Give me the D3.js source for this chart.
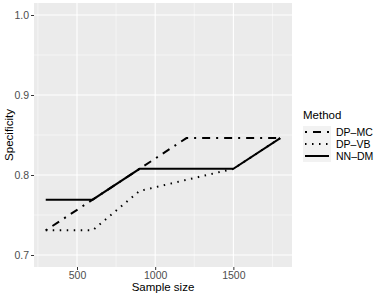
<!DOCTYPE html>
<html>
<head>
<meta charset="utf-8">
<script src="https://cdn.jsdelivr.net/npm/d3@7"></script>
<style>
  body { margin: 0; background: #fff; }
  text { font-family: "Liberation Sans", Arial, sans-serif; }
</style>
</head>
<body>
<svg id="chart" width="382" height="300"></svg>
<script>
// sample sizes on the x axis
const sampleSizes = [300, 600, 900, 1200, 1500, 1800];

// specificity per method
const dpMC = [0.7308, 0.7692, 0.8077, 0.8462, 0.8462, 0.8462];
const dpVB = [0.7308, 0.7308, 0.7800, 0.7940, 0.8077, 0.8462];
const nnDM = [0.7692, 0.7692, 0.8077, 0.8077, 0.8077, 0.8462];

const methods = ['DP\u2013MC', 'DP\u2013VB', 'NN\u2013DM'];
const xTicks = [500, 1000, 1500];
const xMinor = [250, 750, 1250, 1750];
const yTicks = [0.7, 0.8, 0.9, 1.0];
const yMinor = [0.75, 0.85, 0.95];

const series = [
  { name: methods[0], values: dpMC, dash: '2,6,8,6' },
  { name: methods[1], values: dpVB, dash: '1.5,5.5' },
  { name: methods[2], values: nnDM, dash: null }
];

const svg = d3.select('#chart');
const panel = { left: 34, right: 292, top: 3, bottom: 267 };

const x = d3.scaleLinear().domain([225, 1875]).range([panel.left, panel.right]);
const y = d3.scaleLinear().domain([0.685, 1.015]).range([panel.bottom, panel.top]);

svg.append('rect')
  .attr('x', panel.left).attr('y', panel.top)
  .attr('width', panel.right - panel.left)
  .attr('height', panel.bottom - panel.top)
  .attr('fill', '#ebebeb');

const grid = svg.append('g');
grid.selectAll('.xminor').data(xMinor).enter().append('line')
  .attr('x1', d => x(d)).attr('x2', d => x(d))
  .attr('y1', panel.top).attr('y2', panel.bottom)
  .attr('stroke', '#fff').attr('stroke-width', 0.5);
grid.selectAll('.yminor').data(yMinor).enter().append('line')
  .attr('y1', d => y(d)).attr('y2', d => y(d))
  .attr('x1', panel.left).attr('x2', panel.right)
  .attr('stroke', '#fff').attr('stroke-width', 0.5);
grid.selectAll('.xmajor').data(xTicks).enter().append('line')
  .attr('x1', d => x(d)).attr('x2', d => x(d))
  .attr('y1', panel.top).attr('y2', panel.bottom)
  .attr('stroke', '#fff').attr('stroke-width', 1.1);
grid.selectAll('.ymajor').data(yTicks).enter().append('line')
  .attr('y1', d => y(d)).attr('y2', d => y(d))
  .attr('x1', panel.left).attr('x2', panel.right)
  .attr('stroke', '#fff').attr('stroke-width', 1.1);

const line = d3.line()
  .x((d, i) => x(sampleSizes[i]))
  .y(d => y(d));

series.forEach(s => {
  svg.append('path')
    .datum(s.values)
    .attr('d', line)
    .attr('fill', 'none')
    .attr('stroke', '#000')
    .attr('stroke-width', 2)
    .attr('stroke-dasharray', s.dash);
});

// axes
const xAxis = svg.append('g')
  .attr('transform', `translate(0,${panel.bottom})`)
  .call(d3.axisBottom(x).tickValues(xTicks).tickSize(3).tickPadding(2).tickFormat(d3.format('d')));
const yAxis = svg.append('g')
  .attr('transform', `translate(${panel.left},0)`)
  .call(d3.axisLeft(y).tickValues(yTicks).tickSize(3).tickPadding(2).tickFormat(d3.format('.1f')));
[xAxis, yAxis].forEach(a => {
  a.select('.domain').remove();
  a.selectAll('.tick line').attr('stroke', '#333');
  a.selectAll('.tick text').attr('fill', '#4d4d4d').style('font-size', '10.5px');
});

svg.append('text')
  .attr('x', (panel.left + panel.right) / 2).attr('y', 291)
  .attr('text-anchor', 'middle')
  .style('font-size', '11.5px')
  .text('Sample size');

svg.append('text')
  .attr('transform', `translate(13,${(panel.top + panel.bottom) / 2}) rotate(-90)`)
  .attr('text-anchor', 'middle')
  .style('font-size', '11.5px')
  .text('Specificity');

// legend
const legend = svg.append('g').attr('transform', 'translate(303,0)');
legend.append('text')
  .attr('x', 0).attr('y', 119)
  .style('font-size', '11.5px')
  .text('Method');

series.forEach((s, i) => {
  const cy = 132 + i * 12;
  legend.append('rect')
    .attr('x', 0).attr('y', cy - 6)
    .attr('width', 28).attr('height', 12)
    .attr('fill', '#f2f2f2');
  legend.append('line')
    .attr('x1', 2).attr('x2', 26)
    .attr('y1', cy).attr('y2', cy)
    .attr('stroke', '#000').attr('stroke-width', 2)
    .attr('stroke-dasharray', s.dash);
  legend.append('text')
    .attr('x', 33).attr('y', cy + 4)
    .style('font-size', '10.5px')
    .text(s.name);
});
</script>
</body>
</html>
